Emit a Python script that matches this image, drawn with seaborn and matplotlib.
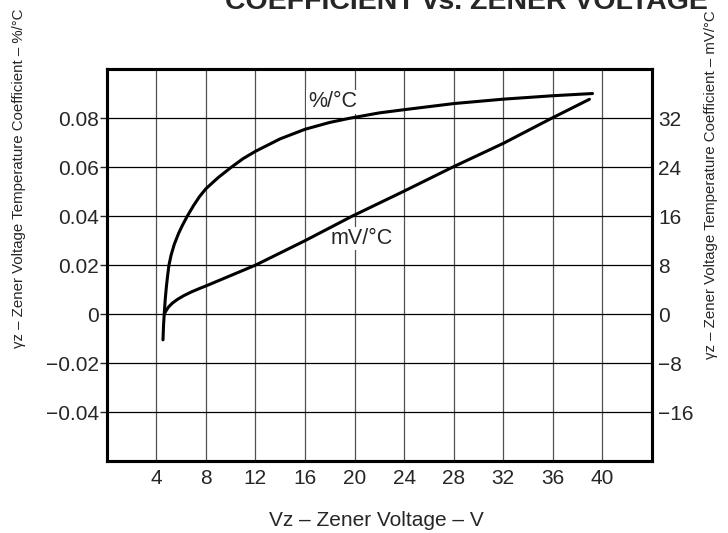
import seaborn as sns
import matplotlib.pyplot as plt
import pandas as pd

# %/°C curve (left axis)
pct_v = [4.54, 4.58, 4.64, 4.72, 4.81, 4.92, 5.02, 5.2, 5.45, 5.8, 6.1, 6.5, 7.0,
         7.5, 8.0, 9.0, 10.0, 11.0, 12.0, 14.0, 16.0, 18.0, 19.6, 22.0, 24.0,
         28.0, 32.0, 36.0, 39.2]
pct_tc = [-0.0105, -0.005, 0.0, 0.006, 0.011, 0.016, 0.020, 0.0242, 0.0285,
          0.0330, 0.0362, 0.0400, 0.0443, 0.0481, 0.0512, 0.0558, 0.0598, 0.0635,
          0.0665, 0.0716, 0.0755, 0.0783, 0.0800, 0.0822, 0.0835, 0.0860, 0.0878,
          0.0892, 0.0901]

# mV/°C curve (right axis)
mv_v = [4.64, 4.8, 5.0, 5.3, 5.7, 6.2, 6.8, 7.5, 8.0, 10.0, 12.0, 16.0, 19.8,
        24.0, 27.9, 32.0, 35.9, 38.95]
mv_tc = [0.0, 0.6, 1.2, 1.8, 2.4, 3.0, 3.6, 4.2, 4.6, 6.3, 8.0, 12.0, 16.0,
         20.1, 24.0, 27.9, 32.0, 35.1]

x_ticks = [4, 8, 12, 16, 20, 24, 28, 32, 36, 40]
left_ticks = [-0.04, -0.02, 0, 0.02, 0.04, 0.06, 0.08]
left_labels = ["\u22120.04", "\u22120.02", "0", "0.02", "0.04", "0.06", "0.08"]
right_ticks = [-16, -8, 0, 8, 16, 24, 32]
right_labels = ["\u221216", "\u22128", "0", "8", "16", "24", "32"]

sns.set_style("white")
plt.rcParams["font.family"] = ["Liberation Sans", "DejaVu Sans"]
fs = 15

fig = plt.figure(figsize=(7.28, 5.33), dpi=100)
ax = fig.add_axes([0.1466, 0.135, 0.7490, 0.735])
ax2 = ax.twinx()

pct_df = pd.DataFrame({"V": pct_v, "tc": pct_tc})
mv_df = pd.DataFrame({"V": mv_v, "tc": mv_tc})

ax.set_xlim(0, 44)
ax.set_ylim(-0.06, 0.10)
ax2.set_ylim(-24, 40)

for x in x_ticks:
    ax.axvline(x, color="#505050", lw=0.9, zorder=0)
for y in left_ticks:
    ax.axhline(y, color="black", lw=0.9, zorder=0)

sns.lineplot(data=pct_df, x="V", y="tc", ax=ax, color="black", lw=2.2,
             sort=False, estimator=None, solid_joinstyle="round")
sns.lineplot(data=mv_df, x="V", y="tc", ax=ax2, color="black", lw=2.2,
             sort=False, estimator=None, solid_joinstyle="round")

ax.text(18.2, 0.0867, "%/\u00b0C", fontsize=15.5, ha="center", va="center",
        bbox=dict(facecolor="white", edgecolor="none", pad=1), zorder=3)
ax.text(20.6, 0.0309, "mV/\u00b0C", fontsize=15.5, ha="center", va="center",
        bbox=dict(facecolor="white", edgecolor="none", pad=1), zorder=3)

ax.set_xticks(x_ticks)
ax.set_xticklabels([str(v) for v in x_ticks], fontsize=fs)
ax.set_yticks(left_ticks)
ax.set_yticklabels(left_labels, fontsize=fs)
ax2.set_yticks(right_ticks)
ax2.set_yticklabels(right_labels, fontsize=fs)

ax.tick_params(axis="x", length=0, pad=6)
ax.tick_params(axis="y", direction="out", length=5, width=1, left=True, pad=0.5)
ax2.tick_params(axis="y", length=0, pad=4.5)

ax.set_xlabel("")
ax.set_ylabel("")
ax2.set_ylabel("")
for a in (ax, ax2):
    for s in a.spines.values():
        s.set_linewidth(2.2)
        s.set_color("black")

fig.text(0.641, 1 - 9 / 533, "COEFFICIENT vs. ZENER VOLTAGE", fontsize=20.5,
         fontweight="bold", ha="center", va="baseline")
fig.text(0.5174, 1 - 520 / 533, "Vz \u2013 Zener Voltage \u2013 V", fontsize=fs,
         ha="center", va="center")
fig.text(19 / 728, 1 - 178 / 533,
         "\u03b3z \u2013 Zener Voltage Temperature Coefficient \u2013 %/\u00b0C",
         fontsize=10.8, rotation=90, ha="center", va="center")
fig.text(711 / 728, 1 - 185 / 533,
         "\u03b3z \u2013 Zener Voltage Temperature Coefficient \u2013 mV/\u00b0C",
         fontsize=10.8, rotation=90, ha="center", va="center")

fig.savefig("out.png", dpi=100)
